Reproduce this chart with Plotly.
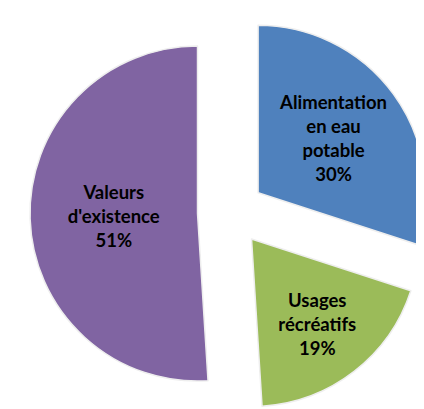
import plotly.graph_objects as go

labels = ["Alimentation<br>en eau<br>potable", "Usages<br>récréatifs", "Valeurs<br>d'existence"]
values = [30, 19, 51]
colors = ["#4F81BD", "#9BBB59", "#8064A2"]
pulls = [0.2, 0.2, 0.2]

fig = go.Figure(go.Pie(
    labels=labels,
    values=values,
    sort=False,
    direction="clockwise",
    rotation=0,
    pull=pulls,
    marker=dict(colors=colors, line=dict(color="#eeeeee", width=1.5)),
    texttemplate="%{label}<br>%{percent}",
    textposition="inside",
    insidetextorientation="horizontal",
    textfont=dict(family="Lato", size=18.5, color="black", weight="bold"),
    hoverinfo="label+percent",
    domain=dict(x=[22/424, 1], y=[0, 1]),
    showlegend=False,
))
fig.update_layout(
    width=424, height=409,
    margin=dict(l=0, r=0, t=0, b=0),
    paper_bgcolor="white",
    plot_bgcolor="white",
    uniformtext=dict(minsize=18, mode="show"),
)
fig.write_html("out.html")
